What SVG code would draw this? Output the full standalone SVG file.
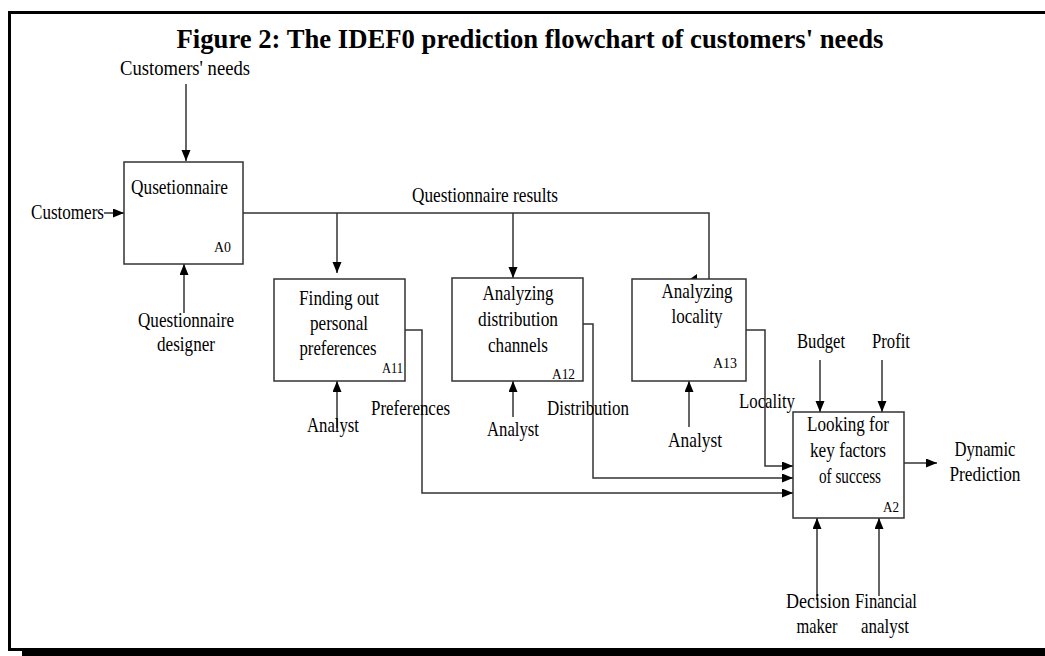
<svg xmlns="http://www.w3.org/2000/svg" width="1045" height="656" viewBox="0 0 1045 656">
<defs>
<style>
text{font-family:"Liberation Serif","Times New Roman",serif;font-size:21px;fill:#000}
.title{font-size:27px;font-weight:bold}
.code{font-size:15px}
.c{text-anchor:middle}
.box{fill:#fff;stroke:#333;stroke-width:1.5}
.ln{fill:none;stroke:#333;stroke-width:1.5}
</style>
<marker id="ah" markerUnits="userSpaceOnUse" markerWidth="11" markerHeight="10" refX="11" refY="4.5" orient="auto">
<path d="M0,0 L11,4.5 L0,9 z" fill="#000"/>
</marker>
</defs>
<rect x="0" y="0" width="1045" height="656" fill="#fff"/>
<g id="frame">
<rect x="9.5" y="12.5" width="1100" height="637" fill="none" stroke="#000" stroke-width="3"/>
<rect x="22" y="650" width="1023" height="6" fill="#000"/>
</g>
<text class="title c" x="530" y="48" textLength="707" lengthAdjust="spacingAndGlyphs">Figure 2: The IDEF0 prediction flowchart of customers' needs</text>
<g id="connectors">
<path class="ln" d="M186,84 V161" marker-end="url(#ah)"/>
<path class="ln" d="M104,213 H124" marker-end="url(#ah)"/>
<path class="ln" d="M184,313 V264" marker-end="url(#ah)"/>
<path class="ln" d="M243,213 H709 V279"/>
<polygon points="690,279 697,279 697,274" fill="#000"/>
<path class="ln" d="M337,213 V273" marker-end="url(#ah)"/>
<path class="ln" d="M513,213 V278" marker-end="url(#ah)"/>
<path class="ln" d="M337,428 V381" marker-end="url(#ah)"/>
<path class="ln" d="M513,417 V381" marker-end="url(#ah)"/>
<path class="ln" d="M689,427 V381" marker-end="url(#ah)"/>
<path class="ln" d="M405,330 H422 V493 H793" marker-end="url(#ah)"/>
<path class="ln" d="M583,324 H593 V478 H793" marker-end="url(#ah)"/>
<path class="ln" d="M746,330 H765 V466 H793" marker-end="url(#ah)"/>
<path class="ln" d="M820,360 V412" marker-end="url(#ah)"/>
<path class="ln" d="M882,360 V412" marker-end="url(#ah)"/>
<path class="ln" d="M904,463 H937" marker-end="url(#ah)"/>
<path class="ln" d="M817,600 V518" marker-end="url(#ah)"/>
<path class="ln" d="M879,596 V518" marker-end="url(#ah)"/>
</g>
<g id="labels">
<text class="c" x="185" y="75" textLength="130" lengthAdjust="spacingAndGlyphs">Customers' needs</text>
<text x="31" y="219" textLength="73" lengthAdjust="spacingAndGlyphs">Customers</text>
<text class="c" x="186" y="327" textLength="96" lengthAdjust="spacingAndGlyphs">Questionnaire</text>
<text class="c" x="186" y="351" textLength="58" lengthAdjust="spacingAndGlyphs">designer</text>
<text x="412" y="202" textLength="146" lengthAdjust="spacingAndGlyphs">Questionnaire results</text>
<text class="c" x="333" y="432" textLength="52" lengthAdjust="spacingAndGlyphs">Analyst</text>
<text x="371" y="415" textLength="79" lengthAdjust="spacingAndGlyphs">Preferences</text>
<text class="c" x="513" y="436" textLength="52" lengthAdjust="spacingAndGlyphs">Analyst</text>
<text x="547" y="415" textLength="82" lengthAdjust="spacingAndGlyphs">Distribution</text>
<text class="c" x="695" y="447" textLength="54" lengthAdjust="spacingAndGlyphs">Analyst</text>
<text x="739" y="408" textLength="56" lengthAdjust="spacingAndGlyphs">Locality</text>
<text class="c" x="821" y="348" textLength="48" lengthAdjust="spacingAndGlyphs">Budget</text>
<text class="c" x="891" y="348" textLength="38" lengthAdjust="spacingAndGlyphs">Profit</text>
<text class="c" x="985" y="456" textLength="61" lengthAdjust="spacingAndGlyphs">Dynamic</text>
<text class="c" x="985" y="481" textLength="71" lengthAdjust="spacingAndGlyphs">Prediction</text>
<text class="c" x="818" y="608" textLength="64" lengthAdjust="spacingAndGlyphs">Decision</text>
<text class="c" x="886" y="608" textLength="62" lengthAdjust="spacingAndGlyphs">Financial</text>
<text class="c" x="817" y="633" textLength="41" lengthAdjust="spacingAndGlyphs">maker</text>
<text class="c" x="885" y="633" textLength="48" lengthAdjust="spacingAndGlyphs">analyst</text>
</g>
<g id="A0">
<rect class="box" x="124" y="162" width="119" height="102"/>
<text x="131" y="194" textLength="97" lengthAdjust="spacingAndGlyphs">Qusetionnaire</text>
<text class="code" x="214" y="252" textLength="17" lengthAdjust="spacingAndGlyphs">A0</text>
</g>
<g id="A11">
<rect class="box" x="274" y="279" width="131" height="102"/>
<text class="c" x="339" y="305" textLength="80" lengthAdjust="spacingAndGlyphs">Finding out</text>
<text class="c" x="339" y="330" textLength="58" lengthAdjust="spacingAndGlyphs">personal</text>
<text class="c" x="338" y="355" textLength="77" lengthAdjust="spacingAndGlyphs">preferences</text>
<text class="code" x="382" y="373" textLength="21" lengthAdjust="spacingAndGlyphs">A11</text>
</g>
<g id="A12">
<rect class="box" x="452" y="278" width="131" height="103"/>
<text class="c" x="518" y="300" textLength="71" lengthAdjust="spacingAndGlyphs">Analyzing</text>
<text class="c" x="518" y="326" textLength="80" lengthAdjust="spacingAndGlyphs">distribution</text>
<text class="c" x="518" y="352" textLength="60" lengthAdjust="spacingAndGlyphs">channels</text>
<text class="code" x="552" y="379" textLength="23" lengthAdjust="spacingAndGlyphs">A12</text>
</g>
<g id="A13">
<rect class="box" x="632" y="279" width="114" height="102"/>
<text class="c" x="697" y="298" textLength="71" lengthAdjust="spacingAndGlyphs">Analyzing</text>
<text class="c" x="697" y="323" textLength="51" lengthAdjust="spacingAndGlyphs">locality</text>
<text class="code" x="713" y="368" textLength="24" lengthAdjust="spacingAndGlyphs">A13</text>
</g>
<g id="A2">
<rect class="box" x="793" y="412" width="111" height="106"/>
<text class="c" x="848" y="431" textLength="82" lengthAdjust="spacingAndGlyphs">Looking for</text>
<text class="c" x="848" y="457" textLength="76" lengthAdjust="spacingAndGlyphs">key factors</text>
<text class="c" x="850" y="483" textLength="62" lengthAdjust="spacingAndGlyphs">of success</text>
<text class="code" x="883" y="512" textLength="16" lengthAdjust="spacingAndGlyphs">A2</text>
</g>
</svg>
